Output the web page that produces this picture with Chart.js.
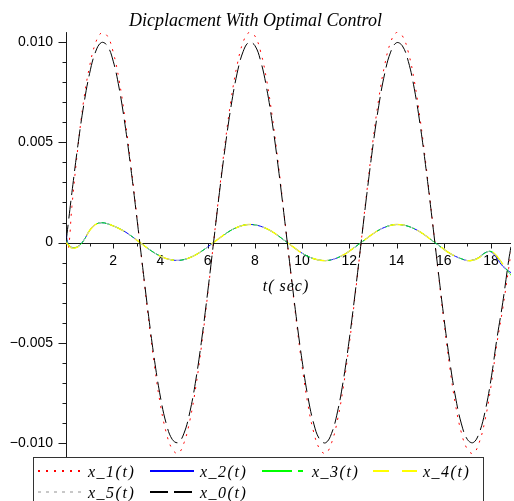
<!DOCTYPE html>
<html>
<head>
<meta charset="utf-8">
<script src="https://cdn.jsdelivr.net/npm/chart.js@4.4.1/dist/chart.umd.min.js"></script>
<style>
    html, body { margin: 0; padding: 0; background: #fff; }
</style>
</head>
<body>
<canvas id="myChart" width="514" height="501"></canvas>
<script>
// tempo (s)
const tempo = [
    0, 0.1, 0.25, 0.5, 0.75, 1, 1.25, 1.5, 1.75, 2, 2.25, 2.5, 2.75, 3, 3.25, 3.5, 3.75, 4, 4.25, 4.5, 4.75, 5, 5.25, 5.5, 5.75, 6, 6.25,
    6.5, 6.75, 7, 7.25, 7.5, 7.75, 8, 8.25, 8.5, 8.75, 9, 9.25, 9.5, 9.75, 10, 10.25, 10.5, 10.75, 11, 11.25, 11.5, 11.75, 12, 12.25, 12.5,
    12.75, 13, 13.25, 13.5, 13.75, 14, 14.25, 14.5, 14.75, 15, 15.25, 15.5, 15.75, 16, 16.25, 16.5, 16.75, 17, 17.25, 17.5, 17.75, 18, 18.25, 18.5, 18.75,
    18.85,
]

const x_1 = [
    0, -0.0003, 0.0018, 0.0047, 0.0071, 0.0088, 0.00995, 0.01046, 0.01031, 0.0095, 0.0081, 0.00617, 0.00386, 0.00131, -0.00131, -0.00386, -0.00617, -0.0081, -0.0095, -0.01031, -0.01052, -0.00999, -0.00886, -0.00719, -0.00506, -0.00261, 0,
    0.00261, 0.00506, 0.00719, 0.00886, 0.00999, 0.01048, 0.01031, 0.0095, 0.0081, 0.00617, 0.00386, 0.00131, -0.00131, -0.00386, -0.00617, -0.0081, -0.0095, -0.01031, -0.01052, -0.00999, -0.00886, -0.00719, -0.00506, -0.00261, 0,
    0.00261, 0.00506, 0.00719, 0.00886, 0.00999, 0.01048, 0.01031, 0.0095, 0.0081, 0.00617, 0.00386, 0.00131, -0.00131, -0.00386, -0.00617, -0.0081, -0.0095, -0.01031, -0.01052, -0.00999, -0.00886, -0.00719, -0.00506, -0.0033, -0.0013,
    -0.0005,
]

const x_2 = [
    0.0004, -0.00008, -0.00024, -0.0002, 0.00011, 0.0006, 0.0009, 0.00099, 0.00094, 0.00083, 0.0007, 0.00054, 0.00034, 0.00012, -0.0001, -0.00032, -0.00052, -0.00068, -0.0008, -0.00087, -0.00089, -0.00085, -0.00075, -0.00061, -0.00043, -0.00022, 0,
    0.00022, 0.00043, 0.00062, 0.00076, 0.00086, 0.0009, 0.00088, 0.00081, 0.00069, 0.00053, 0.00033, 0.00011, -0.00011, -0.00033, -0.00053, -0.00069, -0.00081, -0.00088, -0.0009, -0.00086, -0.00076, -0.00062, -0.00043, -0.00022, 0,
    0.00022, 0.00043, 0.00062, 0.00076, 0.00086, 0.0009, 0.00088, 0.00081, 0.00069, 0.00053, 0.00033, 0.00011, -0.00011, -0.00033, -0.00053, -0.00069, -0.00081, -0.0009, -0.00087, -0.00073, -0.00051, -0.00046, -0.00078, -0.00118, -0.00142,
    -0.0015,
]

const x_3 = [
    0.0002, -0.0001, -0.00026, -0.00021, 0.0001, 0.0006, 0.0009, 0.00099, 0.00094, 0.00083, 0.0007, 0.00054, 0.00034, 0.00012, -0.0001, -0.00032, -0.00052, -0.00068, -0.0008, -0.00087, -0.00089, -0.00085, -0.00075, -0.00061, -0.00043, -0.00022, 0,
    0.00022, 0.00043, 0.00062, 0.00076, 0.00086, 0.0009, 0.00088, 0.00081, 0.00069, 0.00053, 0.00033, 0.00011, -0.00011, -0.00033, -0.00053, -0.00069, -0.00081, -0.00088, -0.0009, -0.00086, -0.00076, -0.00062, -0.00043, -0.00022, 0,
    0.00022, 0.00043, 0.00062, 0.00076, 0.00086, 0.0009, 0.00088, 0.00081, 0.00069, 0.00053, 0.00033, 0.00011, -0.00011, -0.00033, -0.00053, -0.00069, -0.00081, -0.0009, -0.00088, -0.00075, -0.00052, -0.00044, -0.00068, -0.00108, -0.00148,
    -0.00162,
]

const x_4 = [
    0, -0.00012, -0.00028, -0.00022, 0.0001, 0.0006, 0.0009, 0.00099, 0.00094, 0.00083, 0.0007, 0.00054, 0.00034, 0.00012, -0.0001, -0.00032, -0.00052, -0.00068, -0.0008, -0.00087, -0.00089, -0.00085, -0.00075, -0.00061, -0.00043, -0.00022, 0,
    0.00022, 0.00043, 0.00062, 0.00076, 0.00086, 0.0009, 0.00088, 0.00081, 0.00069, 0.00053, 0.00033, 0.00011, -0.00011, -0.00033, -0.00053, -0.00069, -0.00081, -0.00088, -0.0009, -0.00086, -0.00076, -0.00062, -0.00043, -0.00022, 0,
    0.00022, 0.00043, 0.00062, 0.00076, 0.00086, 0.0009, 0.00088, 0.00081, 0.00069, 0.00053, 0.00033, 0.00011, -0.00011, -0.00033, -0.00053, -0.00069, -0.00081, -0.0009, -0.00088, -0.00075, -0.00052, -0.00044, -0.00068, -0.00108, -0.00148,
    -0.00163,
]

const x_5 = [
    0.0001, -0.00011, -0.00027, -0.00022, 0.0001, 0.0006, 0.0009, 0.00099, 0.00094, 0.00083, 0.0007, 0.00054, 0.00034, 0.00012, -0.0001, -0.00032, -0.00052, -0.00068, -0.0008, -0.00087, -0.00089, -0.00085, -0.00075, -0.00061, -0.00043, -0.00022, 0,
    0.00022, 0.00043, 0.00062, 0.00076, 0.00086, 0.0009, 0.00088, 0.00081, 0.00069, 0.00053, 0.00033, 0.00011, -0.00011, -0.00033, -0.00053, -0.00069, -0.00081, -0.00088, -0.0009, -0.00086, -0.00076, -0.00062, -0.00043, -0.00022, 0,
    0.00022, 0.00043, 0.00062, 0.00076, 0.00086, 0.0009, 0.00088, 0.00081, 0.00069, 0.00053, 0.00033, 0.00011, -0.00011, -0.00033, -0.00053, -0.00069, -0.00081, -0.0009, -0.00088, -0.00075, -0.00052, -0.00045, -0.0007, -0.0011, -0.00146,
    -0.0016,
]

const x_0 = [
    0, 0.001, 0.00249, 0.00482, 0.00685, 0.00844, 0.00951, 0.00998, 0.00982, 0.00905, 0.00771, 0.00588, 0.00368, 0.00125, -0.00125, -0.00368, -0.00588, -0.00771, -0.00905, -0.00982, -0.00998, -0.00951, -0.00844, -0.00685, -0.00482, -0.00249, 0,
    0.0025, 0.00483, 0.00686, 0.00845, 0.00952, 0.00999, 0.00983, 0.00904, 0.0077, 0.00587, 0.00367, 0.00124, -0.00126, -0.00369, -0.00589, -0.00772, -0.00906, -0.00983, -0.00999, -0.00952, -0.00845, -0.00686, -0.00483, -0.0025, -0.00001,
    0.00248, 0.00481, 0.00684, 0.00843, 0.0095, 0.00997, 0.00981, 0.00904, 0.0077, 0.00588, 0.00368, 0.00125, -0.00125, -0.00368, -0.00588, -0.00771, -0.00905, -0.00982, -0.00998, -0.00951, -0.00844, -0.00685, -0.00482, -0.003, -0.0009,
    -0.0002,
]

const nomes = ["x_1(t)", "x_2(t)", "x_3(t)", "x_4(t)", "x_5(t)", "x_0(t)"]
const valores = [x_1, x_2, x_3, x_4, x_5, x_0]

const cores = ["#ff0000", "#0000ff", "#00ff00", "#ffff00", "#c8c8c8", "#000000"]
const tracos = [[2, 6], [], [30, 6, 5, 6], [16, 13], [3, 5], [18, 6]]

const fonteTexto = "italic 16px 'Liberation Serif'"

// eixos cruzando na origem, com marcas maiores e menores
const eixos = {
    id: "eixos",
    beforeDatasetsDraw(chart) {
        const { ctx, chartArea, scales } = chart
        const sx = scales.x
        const sy = scales.y
        const y0 = Math.round(sy.getPixelForValue(0)) + 0.5
        const x0 = Math.round(sx.getPixelForValue(0)) + 0.5

        ctx.save()
        ctx.strokeStyle = "#1a1a1a"
        ctx.lineWidth = 1
        ctx.beginPath()
        ctx.moveTo(x0, chartArea.top)
        ctx.lineTo(x0, chartArea.bottom)
        ctx.moveTo(chartArea.left, y0)
        ctx.lineTo(chartArea.right, y0)

        sy.ticks.forEach(function (t) {
            let py = Math.round(sy.getPixelForValue(t.value)) + 0.5
            let maior = Math.round(t.value * 1000) % 5 === 0
            ctx.moveTo(x0 - (maior ? 8 : 4), py)
            ctx.lineTo(x0, py)
        })
        sx.ticks.forEach(function (t) {
            if (t.value === 0) return
            let px = Math.round(sx.getPixelForValue(t.value)) + 0.5
            let maior = t.value % 2 === 0
            ctx.moveTo(px, y0)
            ctx.lineTo(px, y0 + (maior ? 5 : 3))
        })
        ctx.stroke()

        ctx.fillStyle = "#000"
        ctx.font = fonteTexto
        ctx.textAlign = "center"
        ctx.textBaseline = "middle"
        ctx.letterSpacing = "1px"
        ctx.fillText("t( sec)", 286, y0 + 43)
        ctx.restore()
    },
}

// legenda em caixa, duas linhas
const legenda = {
    id: "legenda",
    afterDraw(chart) {
        const ctx = chart.ctx
        const caixa = { x: 33.5, y: 457.5, w: 450, h: 60 }
        ctx.save()
        ctx.fillStyle = "#fff"
        ctx.fillRect(caixa.x, caixa.y, caixa.w, caixa.h)
        ctx.strokeStyle = "#333"
        ctx.lineWidth = 1
        ctx.strokeRect(caixa.x, caixa.y, caixa.w, caixa.h)

        const colunas = [38, 150, 262, 373]
        const linhas = [471, 492]
        ctx.font = fonteTexto
        ctx.letterSpacing = "1.5px"
        ctx.textBaseline = "middle"
        ctx.textAlign = "left"

        for (let i = 0; i < nomes.length; i++) {
            let cx = colunas[i % 4]
            let cy = linhas[Math.floor(i / 4)]
            ctx.strokeStyle = cores[i]
            ctx.lineWidth = 2
            ctx.setLineDash(tracos[i])
            ctx.beginPath()
            ctx.moveTo(cx, cy)
            ctx.lineTo(cx + 44, cy)
            ctx.stroke()
            ctx.setLineDash([])
            ctx.fillStyle = "#000"
            ctx.fillText(nomes[i], cx + 50, cy + 1.5)
        }
        ctx.restore()
    },
}

const ctx = document.getElementById("myChart").getContext("2d")
let myChart = new Chart(ctx, {
    type: "line",
    data: {
        datasets: nomes.map(function (nome, i) {
            return {
                label: nome,
                data: tempo.map((t, j) => ({ x: t, y: valores[i][j] })),
                borderColor: cores[i],
                borderDash: tracos[i],
                borderWidth: i === 3 ? 1.4 : 1,
                pointRadius: 0,
                tension: 0.4,
                fill: false,
                order: nomes.length - i,
            }
        }),
    },
    options: {
        responsive: false,
        animation: false,
        devicePixelRatio: 1,
        layout: { padding: { left: 0, right: 3, top: 0, bottom: 44 } },
        plugins: {
            legend: { display: false },
            tooltip: { enabled: false },
            title: {
                display: true,
                text: "Dicplacment With Optimal Control",
                color: "#000",
                font: { family: "Liberation Serif", style: "italic", weight: "normal", size: 18, lineHeight: 1.2 },
                padding: { top: 10, bottom: 0.5 },
            },
        },
        scales: {
            x: {
                type: "linear",
                min: 0,
                max: 18.85,
                position: { y: 0 },
                grid: { display: false, drawTicks: false },
                border: { display: false },
                ticks: {
                    stepSize: 1,
                    autoSkip: false,
                    maxRotation: 0,
                    includeBounds: false,
                    padding: 10,
                    color: "#000",
                    font: { family: "Liberation Sans", size: 14 },
                    callback: (v) => (v % 2 === 0 && v !== 0 ? String(v) : ""),
                },
                afterFit: (s) => {
                    s.height = 0
                },
            },
            y: {
                type: "linear",
                min: -0.0107,
                max: 0.0105,
                position: "left",
                grid: { display: false, drawTicks: false },
                border: { display: false },
                ticks: {
                    stepSize: 0.001,
                    autoSkip: false,
                    includeBounds: false,
                    padding: 13,
                    color: "#000",
                    font: { family: "Liberation Sans", size: 14 },
                    callback: function (v) {
                        let m = Math.round(v * 1000)
                        if (m % 5 !== 0) return ""
                        if (m === 0) return "0"
                        let txt = (Math.abs(m) / 1000).toFixed(3)
                        return m < 0 ? "\u2212" + txt : txt
                    },
                },
                afterFit: (s) => {
                    s.width = 66
                },
            },
        },
    },
    plugins: [eixos, legenda],
})
</script>
</body>
</html>
